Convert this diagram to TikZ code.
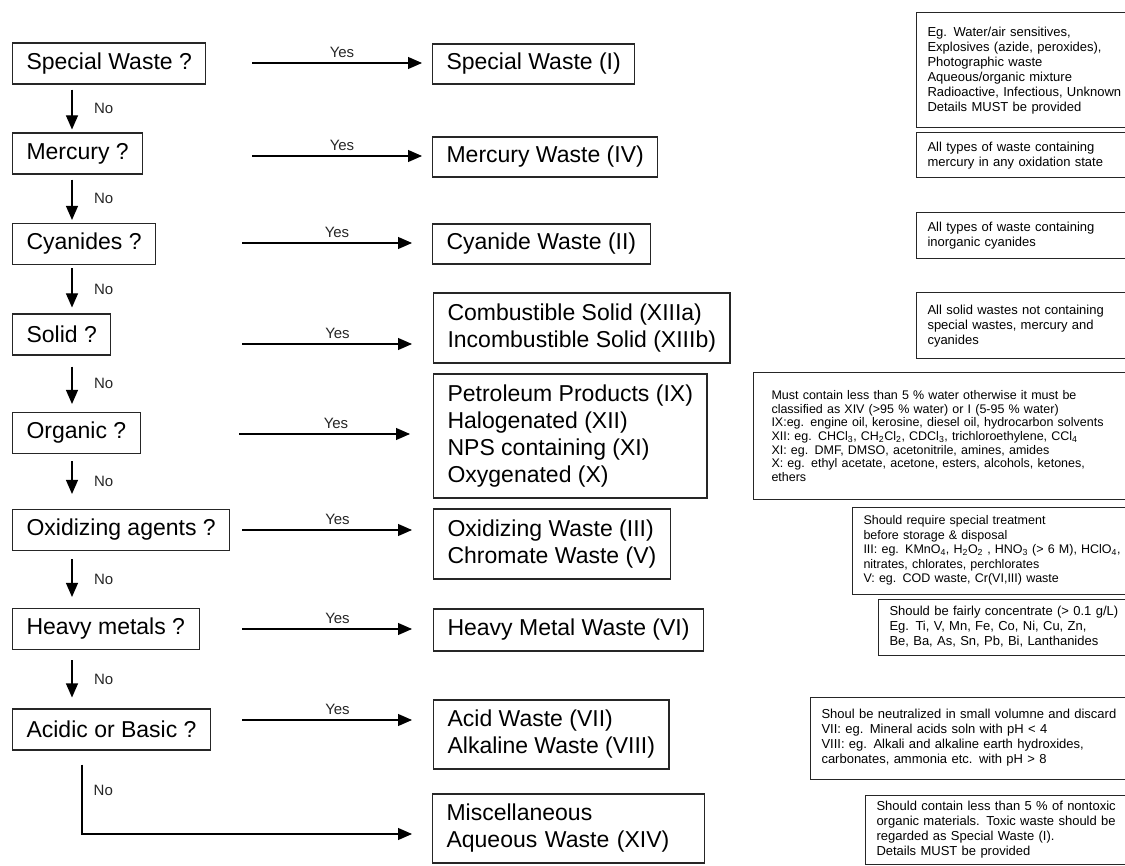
\documentclass[tikz,border=0pt]{standalone}
\usepackage{fontspec}
\setmainfont{Liberation Sans}
\usetikzlibrary{arrows.meta,calc}
\begin{document}
\begin{tikzpicture}[x=1pt,y=-1pt,
  qbox/.style={draw=black!85, line width=1.1pt, inner xsep=14pt, inner ysep=0pt, minimum height=41pt, anchor=west, font=\fontsize{23}{27}\selectfont, align=left},
  rbox/.style={qbox, inner xsep=14pt},
  notebox/.style={draw=black!85, line width=1pt, anchor=west, align=left, inner xsep=11pt, inner ysep=0pt, font=\fontsize{13}{15}\selectfont, text width=400pt},
  arr/.style={-{Triangle[length=14pt,width=12pt]}, line width=1.1pt},
  lbl/.style={font=\fontsize{15}{18}\selectfont, text=black!85, inner sep=4.5pt},
]
\useasboundingbox (0,0) rectangle (1125,866);

% question boxes
\node[qbox] (q1) at (12,63.5) {Special Waste ?};
\node[qbox] (q2) at (12,153.5) {Mercury ?};
\node[qbox] (q3) at (12,244) {Cyanides ?};
\node[qbox] (q4) at (12,334.5) {Solid ?};
\node[qbox] (q5) at (12,433) {Organic ?};
\node[qbox] (q6) at (12,530) {Oxidizing agents ?};
\node[qbox] (q7) at (12,629) {Heavy metals ?};
\node[qbox] (q8) at (12,729.5) {Acidic or Basic ?};

% result boxes
\node[rbox, minimum height=40pt] (r1) at (432,64) {Special Waste (I)};
\node[rbox, minimum height=40pt] (r2) at (432,157) {Mercury Waste (IV)};
\node[rbox, minimum height=40pt] (r3) at (432,244) {Cyanide Waste (II)};
\node[rbox, minimum height=70pt] (r4) at (433,328) {Combustible Solid (XIIIa)\\Incombustible Solid (XIIIb)};
\node[rbox, minimum height=124pt] (r5) at (433,436) {Petroleum Products (IX)\\Halogenated (XII)\\NPS containing (XI)\\Oxygenated (X)};
\node[rbox, minimum height=70pt] (r6) at (433,544) {Oxidizing Waste (III)\\Chromate Waste (V)};
\node[rbox, minimum height=42pt] (r7) at (433,630) {Heavy Metal Waste (VI)};
\node[rbox, minimum height=69pt] (r8) at (433,734.5) {Acid Waste (VII)\\Alkaline Waste (VIII)};
\node[rbox, minimum height=69pt, text width=244pt] (r9) at (432,828.5) {Miscellaneous\\Aqueous Waste (XIV)};

% notes
\node[notebox, minimum height=115pt] (n1) at (916,70.5) {Eg. Water/air sensitives,\\Explosives (azide, peroxides),\\Photographic waste\\Aqueous/organic mixture\\Radioactive, Infectious, Unknown\\Details MUST be provided};
\node[notebox, minimum height=45pt] (n2) at (916,155.5) {All types of waste containing\\mercury in any oxidation state};
\node[notebox, minimum height=46pt] (n3) at (916,236) {All types of waste containing\\inorganic cyanides};
\node[notebox, minimum height=66pt] (n4) at (916,326) {All solid wastes not containing\\special wastes, mercury and\\cyanides};
\node[notebox, minimum height=126pt, inner xsep=18pt, font=\fontsize{12.5}{13.7}\selectfont] (n5) at (753,436) {Must contain less than 5 \% water otherwise it must be\\classified as XIV (>95 \% water) or I (5-95 \% water)\\IX:eg. engine oil, kerosine, diesel oil, hydrocarbon solvents\\XII: eg. CHCl\textsubscript{3}, CH\textsubscript{2}Cl\textsubscript{2}, CDCl\textsubscript{3}, trichloroethylene, CCl\textsubscript{4}\\XI: eg. DMF, DMSO, acetonitrile, amines, amides\\X: eg. ethyl acetate, acetone, esters, alcohols, ketones,\\ethers};
\node[notebox, minimum height=87pt, font=\fontsize{12.5}{14.5}\selectfont] (n6) at (852,550.5) {Should require special treatment\\before storage \& disposal\\III: eg. KMnO\textsubscript{4}, H\textsubscript{2}O\textsubscript{2} , HNO\textsubscript{3} (> 6 M), HClO\textsubscript{4},\\nitrates, chlorates, perchlorates\\V: eg. COD waste, Cr(VI,III) waste};
\node[notebox, minimum height=56pt] (n7) at (878,627) {Should be fairly concentrate (> 0.1 g/L)\\Eg. Ti, V, Mn, Fe, Co, Ni, Cu, Zn,\\Be, Ba, As, Sn, Pb, Bi, Lanthanides};
\node[notebox, minimum height=82pt] (n8) at (810,738) {Shoul be neutralized in small volumne and discard\\VII: eg. Mineral acids soln with pH < 4\\VIII: eg. Alkali and alkaline earth hydroxides,\\carbonates, ammonia etc. with pH > 8};
\node[notebox, anchor=north west, inner ysep=6pt] (n9) at (865,795) {Should contain less than 5 \% of nontoxic\\organic materials. Toxic waste should be\\regarded as Special Waste (I).\\Details MUST be provided};

% yes arrows
\coordinate (a1) at (252,63);
\coordinate (a2) at (252,156);
\coordinate (a3) at (242,243);
\coordinate (a4) at (242,344);
\coordinate (a5) at (239,434);
\coordinate (a6) at (242,530);
\coordinate (a7) at (242,629);
\coordinate (a8) at (242,720);
\draw[arr, shorten >=10pt] (a1) -- node[lbl, above] {Yes} (a1 -| r1.west);
\draw[arr, shorten >=10pt] (a2) -- node[lbl, above] {Yes} (a2 -| r2.west);
\draw[arr, shorten >=20pt] (a3) -- node[lbl, above] {Yes} (a3 -| r3.west);
\draw[arr, shorten >=21pt] (a4) -- node[lbl, above] {Yes} (a4 -| r4.west);
\draw[arr, shorten >=23pt] (a5) -- node[lbl, above] {Yes} (a5 -| r5.west);
\draw[arr, shorten >=21pt] (a6) -- node[lbl, above] {Yes} (a6 -| r6.west);
\draw[arr, shorten >=21pt] (a7) -- node[lbl, above] {Yes} (a7 -| r7.west);
\draw[arr, shorten >=21pt] (a8) -- node[lbl, above] {Yes} (a8 -| r8.west);

% no arrows
\coordinate (dx) at (72,0);
\draw[arr, shorten <=5pt, shorten >=3pt] (q1.south -| dx) -- node[lbl, right=17pt] {No} (q2.north -| dx);
\draw[arr, shorten <=5pt, shorten >=3pt] (q2.south -| dx) -- node[lbl, right=17pt] {No} (q3.north -| dx);
\draw[arr, shorten <=3pt, shorten >=6pt] (q3.south -| dx) -- node[lbl, right=17pt] {No} (q4.north -| dx);
\draw[arr, shorten <=11pt, shorten >=8pt] (q4.south -| dx) -- node[lbl, right=17pt] {No} (q5.north -| dx);
\draw[arr, shorten <=7pt, shorten >=15pt] (q5.south -| dx) -- node[lbl, right=17pt] {No} (q6.north -| dx);
\draw[arr, shorten <=8pt, shorten >=11pt] (q6.south -| dx) -- node[lbl, right=17pt] {No} (q7.north -| dx);
\draw[arr, shorten <=10pt, shorten >=11pt] (q7.south -| dx) -- node[lbl, right=17pt] {No} (q8.north -| dx);

\coordinate (nc) at (82,834);
\draw[arr, shorten <=14pt, shorten >=20pt] (q8.south -| nc) -- (nc) -- (nc -| r9.west);
\node[lbl, anchor=west] (nolast) at (89,790) {No};
\end{tikzpicture}
\end{document}
